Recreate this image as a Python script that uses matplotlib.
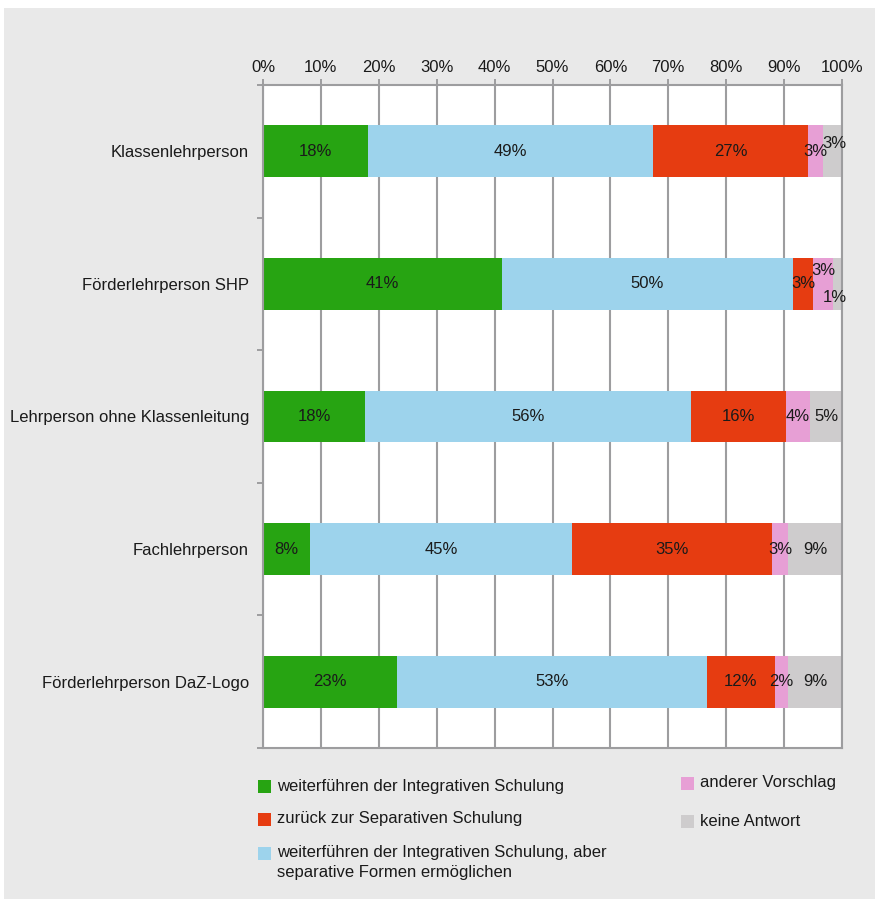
import matplotlib.pyplot as plt
import numpy as np
from matplotlib.patches import Rectangle

plt.rcParams["font.family"] = ["Liberation Sans", "DejaVu Sans"]

categories = [
    "Klassenlehrperson",
    "Förderlehrperson SHP",
    "Lehrperson ohne Klassenleitung",
    "Fachlehrperson",
    "Förderlehrperson DaZ-Logo",
]
series = [
    "weiterführen der Integrativen Schulung",
    "weiterführen der Integrativen Schulung, aber\nseparative Formen ermöglichen",
    "zurück zur Separativen Schulung",
    "anderer Vorschlag",
    "keine Antwort",
]
# shares in % (segment widths)
integrativ = [18.1, 41.3, 17.6, 8.1, 23.1]
integrativ_separativ = [49.3, 50.2, 56.3, 45.3, 53.6]
separativ = [26.7, 3.5, 16.4, 34.5, 11.7]
anderer = [2.6, 3.4, 4.2, 2.8, 2.3]
keine = [3.3, 1.6, 5.5, 9.3, 9.3]
# printed labels
labels_integrativ = [18, 41, 18, 8, 23]
labels_integrativ_separativ = [49, 50, 56, 45, 53]
labels_separativ = [27, 3, 16, 35, 12]
labels_anderer = [3, 3, 4, 3, 2]
labels_keine = [3, 1, 5, 9, 9]

colors = ["#27a412", "#9dd3ec", "#e63c11", "#e79fd5", "#cecccd"]
grid_c = "#9d9d9f"
text_c = "#1a1a1a"
fs = 12

values = np.array([integrativ, integrativ_separativ, separativ, anderer, keine])
labels = [labels_integrativ, labels_integrativ_separativ, labels_separativ,
          labels_anderer, labels_keine]

fig = plt.figure(figsize=(8.75, 8.99), dpi=100, facecolor="white")
fig.patches.append(Rectangle((4 / 875, 0), 1, 1 - 8 / 899, transform=fig.transFigure,
                             facecolor="#e9e9e9", edgecolor="none", zorder=-10))

ax = fig.add_axes([263 / 875, 1 - 748 / 899, 579 / 875, 663 / 899])
ax.set_facecolor("white")

y = np.arange(len(categories))
left = np.zeros(len(categories))
for k in range(len(series)):
    ax.barh(y, values[k], left=left, height=0.39, color=colors[k], zorder=2)
    left += values[k]

# label offsets for crowded small segments: (series, row) -> (dx, dy)
offsets = {(4, 0): (0.4, -0.06), (3, 1): (0.0, -0.10), (4, 1): (-0.4, 0.105)}
left = np.zeros(len(categories))
for k in range(len(series)):
    for i in range(len(categories)):
        dx, dy = offsets.get((k, i), (0, 0))
        ax.text(left[i] + values[k][i] / 2 + dx, y[i] + dy, f"{labels[k][i]}%",
                ha="center", va="center", fontsize=fs, color=text_c, zorder=3)
    left += values[k]

ax.set_xlim(0, 100)
ax.set_ylim(len(categories) - 0.5, -0.5)
ax.xaxis.tick_top()
ax.set_xticks(np.arange(0, 101, 10))
ax.set_xticklabels([f"{v}%" for v in range(0, 101, 10)], fontsize=fs, color=text_c)
ax.tick_params(axis="x", length=4, width=1.4, color=grid_c, pad=3)
ax.set_yticks(y)
ax.set_yticklabels(categories, fontsize=fs, color=text_c)
ax.set_yticks(np.arange(-0.5, len(categories), 1), minor=True)
ax.tick_params(axis="y", which="major", length=0, pad=10)
ax.tick_params(axis="y", which="minor", length=4, width=1.4, color=grid_c)
ax.grid(axis="x", color=grid_c, linewidth=1.5, zorder=1)
ax.set_axisbelow(True)
for s in ax.spines.values():
    s.set_color(grid_c)
    s.set_linewidth(1.5)

# legend
W, H = 875, 899
def swatch(x, yc, c):
    fig.patches.append(Rectangle((x / W, 1 - (yc + 6.5) / H), 13 / W, 13 / H,
                                 transform=fig.transFigure, facecolor=c,
                                 edgecolor="none"))

legend_items = [
    (258, 786, colors[0], series[0]),
    (258, 819, colors[2], series[2]),
    (258, 853, colors[1], series[1]),
    (681, 783, colors[3], series[3]),
    (681, 821, colors[4], series[4]),
]
for x, yc, c, lab in legend_items:
    swatch(x, yc, c)
    fig.text((x + 19) / W, 1 - (yc - 7.5) / H, lab, ha="left", va="top",
             fontsize=fs, color=text_c, linespacing=1.4)

fig.savefig("out.png", dpi=100, facecolor=fig.get_facecolor())
